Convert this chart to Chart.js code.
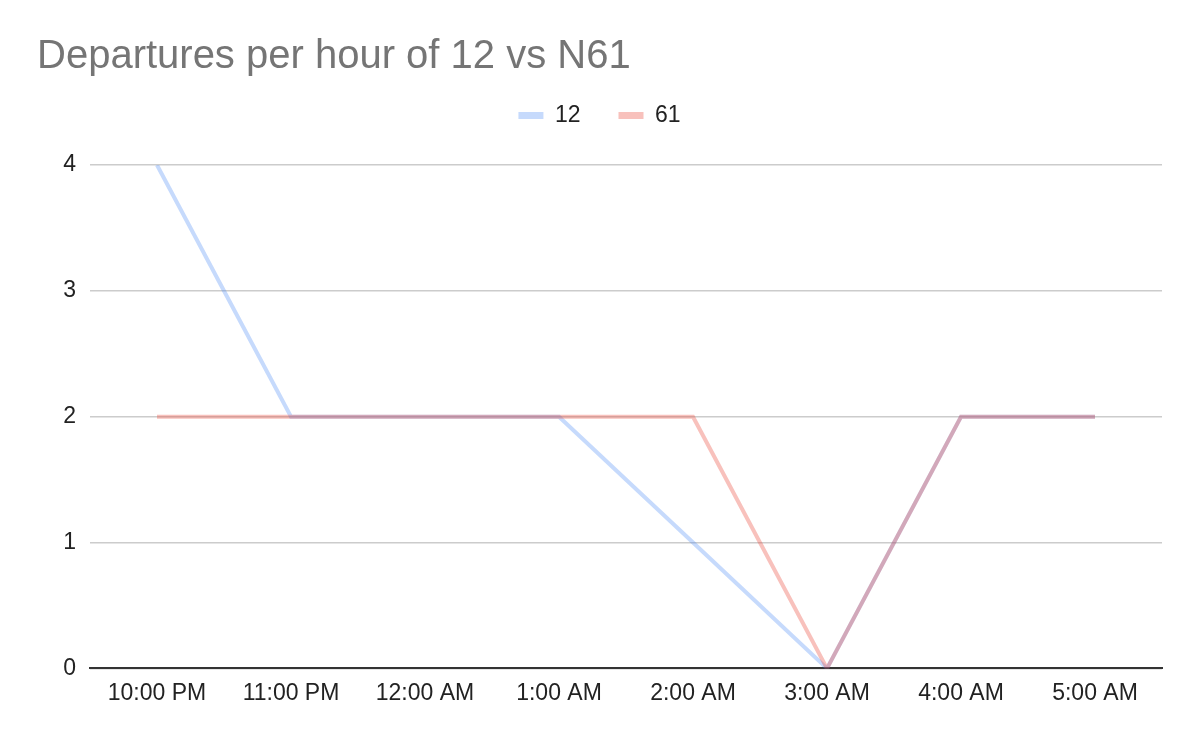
<!DOCTYPE html>
<html>
<head>
<meta charset="utf-8">
<script src="https://cdn.jsdelivr.net/npm/chart.js@4.4.0/dist/chart.umd.min.js"></script>
<style>
  html, body { margin: 0; padding: 0; background: #fff; }
  #wrap { width: 1200px; height: 742px; position: relative; }
</style>
</head>
<body>
<div id="wrap"><canvas id="c" width="1200" height="742"></canvas></div>
<script>
const categories = ["10:00 PM", "11:00 PM", "12:00 AM", "1:00 AM", "2:00 AM", "3:00 AM", "4:00 AM", "5:00 AM"];
const series12 = [4, 2, 2, 2, 1, 0, 2, 2];
const series61 = [2, 2, 2, 2, 2, 0, 2, 2];
const yTicks = [0, 1, 2, 3, 4];

const FONT = "Arial, 'Liberation Sans', sans-serif";

const legendSpacer = {
  id: 'legendSpacer',
  beforeLayout(chart) {
    const lg = chart.legend;
    if (lg && !lg._spacerPatched) {
      const origFit = lg.fit;
      lg.fit = function () { origFit.call(this); this.height += 28; };
      lg._spacerPatched = true;
    }
  }
};

new Chart(document.getElementById('c'), {
  type: 'line',
  data: {
    labels: categories,
    datasets: [
      { label: '12', data: series12, borderColor: 'rgba(66,133,244,0.3)', backgroundColor: 'rgba(66,133,244,0.3)', borderWidth: 4, pointRadius: 0, tension: 0, order: 2 },
      { label: '61', data: series61, borderColor: 'rgba(234,67,53,0.33)', backgroundColor: 'rgba(234,67,53,0.33)', borderWidth: 4, pointRadius: 0, tension: 0, order: 1 }
    ]
  },
  options: {
    responsive: false,
    animation: false,
    layout: { padding: { left: 37, right: 38, top: 0, bottom: 24 } },
    plugins: {
      title: {
        display: true,
        text: 'Departures per hour of 12 vs N61',
        align: 'start',
        color: '#757575',
        font: { family: FONT, size: 40, weight: 'normal', lineHeight: 1.2 },
        padding: { top: 33, bottom: -15 }
      },
      legend: {
        display: true,
        position: 'top',
        align: 'center',
        labels: {
          color: '#222',
          font: { family: FONT, size: 23 },
          boxWidth: 25,
          boxHeight: 7,
          padding: 38,
          generateLabels(chart) {
            return chart.data.datasets.map((ds, i) => ({
              text: ds.label,
              fillStyle: ds.borderColor,
              strokeStyle: ds.borderColor,
              lineWidth: 0,
              datasetIndex: i,
              fontColor: '#222'
            }));
          }
        }
      },
      tooltip: { enabled: false }
    },
    scales: {
      x: {
        offset: true,
        grid: { display: false, drawTicks: false },
        border: { display: true, color: '#333', width: 2 },
        ticks: { color: '#222', font: { family: FONT, size: 23 }, padding: 11, maxRotation: 0, autoSkip: false }
      },
      y: {
        min: 0, max: 4,
        afterBuildTicks(axis) { axis.ticks = yTicks.map(v => ({ value: v })); },
        afterFit(axis) { axis.width = 53; },
        grid: { color: '#cccccc', lineWidth: 1.5, drawTicks: false },
        border: { display: false },
        ticks: { color: '#222', font: { family: FONT, size: 23 }, padding: 14 }
      }
    }
  },
  plugins: [legendSpacer]
});
</script>
</body>
</html>
